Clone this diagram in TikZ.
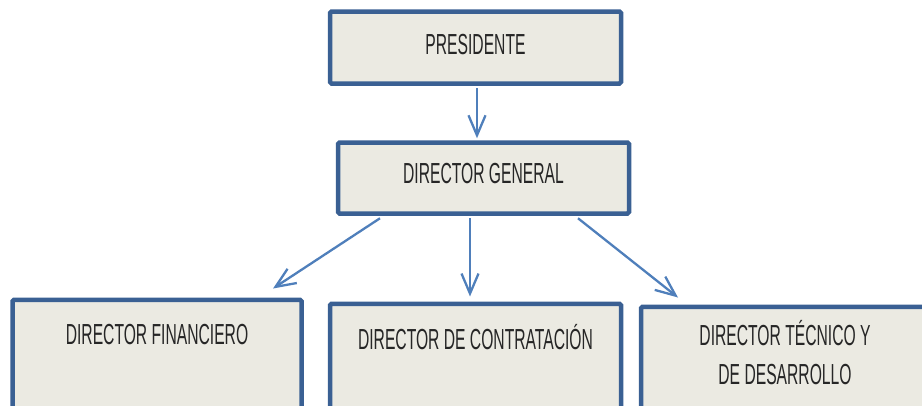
\documentclass[tikz,border=0pt]{standalone}
\usepackage{fontspec}
\setmainfont{Liberation Sans}[FakeStretch=0.54]
\usetikzlibrary{arrows.meta,positioning}
\definecolor{boxline}{HTML}{3A6093}
\definecolor{boxfill}{HTML}{EBEAE2}
\definecolor{arrline}{HTML}{4F7FBB}
\tikzset{
	box/.style={draw=boxline,fill=boxfill,line width=4.5pt,rounded corners=1.5pt,rectangle,inner sep=0pt,minimum width=291pt},
	lbl/.style={align=center,inner sep=0pt,text=black!85,font=\fontsize{29}{39}\selectfont},
	-v/.style={draw=arrline,line width=2.3pt,-{Straight Barb[length=20pt,width=17pt]}}
}

\begin{document}
\begin{tikzpicture}[x=1pt,y=-1pt]
	\useasboundingbox (0,0) rectangle (922,405);
	\clip (0,0) rectangle (922,405);
	\node[box,minimum height=72pt] (pres) at (475.5,47.5) {};
	\node[lbl] (prestxt) at ([yshift=3pt]pres.center) {PRESIDENTE};
	\node[box,minimum height=71pt] (dg) at (483.5,178) {};
	\node[lbl] (dgtxt) at ([yshift=4pt]dg.center) {DIRECTOR GENERAL};
	\node[box,minimum height=160pt,minimum width=289pt,anchor=north] (fin) at (157,297.5) {};
	\node[lbl] (fintxt) at ([yshift=-37pt]fin.north) {DIRECTOR FINANCIERO};
	\node[box,minimum height=160pt,anchor=north] (con) at (475.5,301.5) {};
	\node[lbl] (contxt) at ([yshift=-36pt]con.north) {DIRECTOR DE CONTRATACI\'ON};
	\node[box,minimum height=160pt,anchor=north] (tec) at (786.5,304.5) {};
	\node[lbl] (tectxt) at ([xshift=-1.5pt,yshift=-48pt]tec.north) {DIRECTOR T\'ECNICO Y\\DE DESARROLLO};

	\draw[-v] ([xshift=1.5pt,yshift=-2.5pt]pres.south) -- ([xshift=-6.5pt,yshift=2pt]dg.north);
	\draw[-v] ([xshift=-103.5pt,yshift=-2.5pt]dg.south) -- ([xshift=116pt,yshift=9pt]fin.north);
	\draw[-v] ([xshift=-13.5pt,yshift=-2.5pt]dg.south) -- ([xshift=-5.5pt,yshift=5pt]con.north);
	\draw[-v] ([xshift=94.5pt,yshift=-2.5pt]dg.south) -- ([xshift=-108.5pt,yshift=7pt]tec.north);
\end{tikzpicture}
\end{document}
